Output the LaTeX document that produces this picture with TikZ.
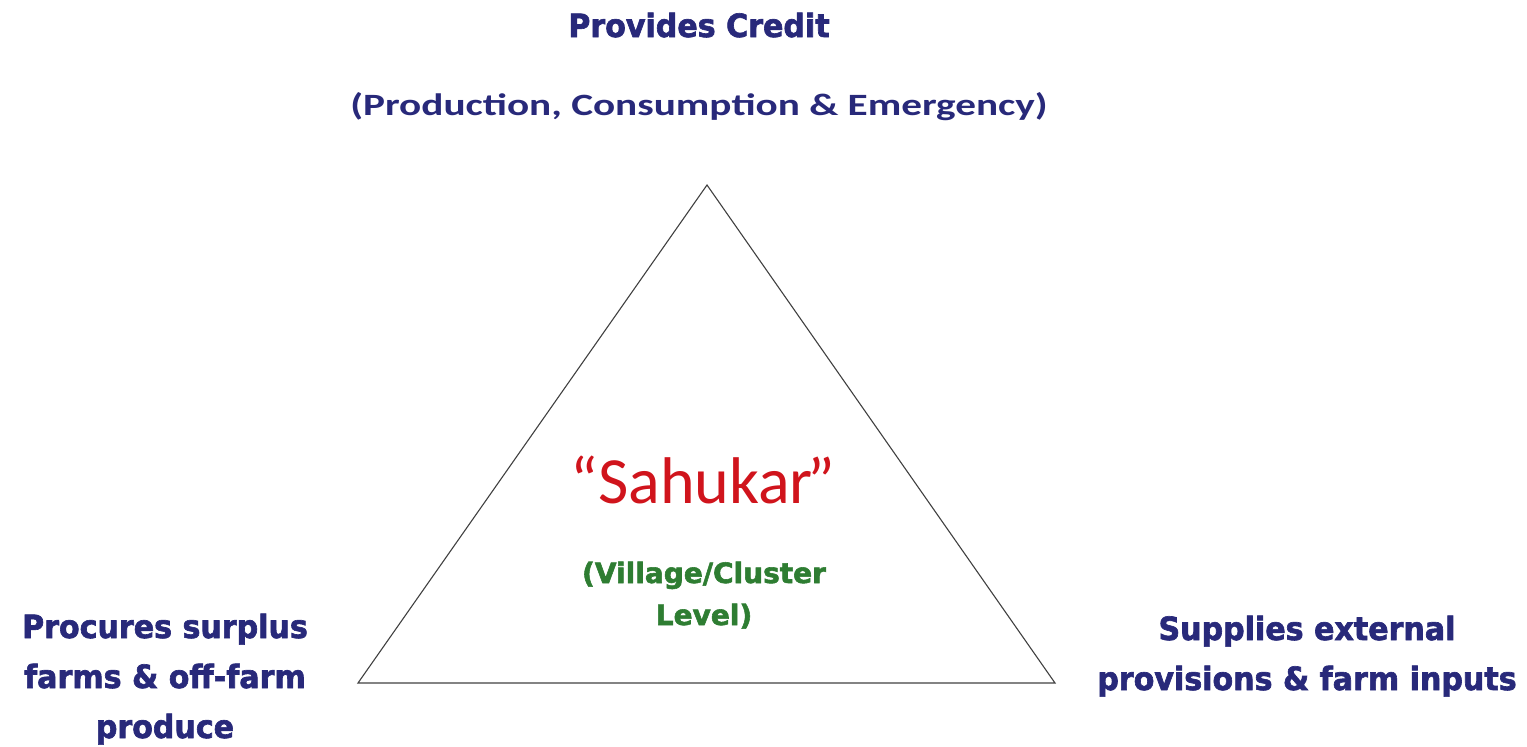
\documentclass[tikz,border=0pt]{standalone}
\usepackage{fontspec}
\setmainfont{Carlito}
\newfontfamily\heavy{DejaVu Sans}[FakeStretch=0.94,FakeBold=2]
\newfontfamily\heavyw{DejaVu Sans}[FakeStretch=1.0,FakeBold=2]
\newfontfamily\wide{Carlito}[FakeStretch=1.33]
\definecolor{navy}{HTML}{28297A}
\definecolor{sred}{HTML}{D0141C}
\definecolor{sgreen}{HTML}{2E7D32}
\begin{document}
\begin{tikzpicture}[x=1pt,y=-1pt,
  lbl/.style={anchor=base,align=center,inner sep=0pt},
  bold/.style={lbl,text=navy,font=\heavy\bfseries\fontsize{32}{50}\selectfont},
  tri/.style={draw=black!75,line width=1.1pt}]
\useasboundingbox (0,0) rectangle (1527,747);
\coordinate (T) at (707,185);
\coordinate (L) at (358,683);
\coordinate (R) at (1055,683);
\draw[tri] (T) -- (L) -- (R) -- cycle;
\node[bold] (credit) at (699,37) {Provides Credit};
\node[lbl,text=navy,font=\wide\bfseries\fontsize{31}{40}\selectfont] (pce) at (699,115) {(Production, Consumption \& Emergency)};
\node[lbl,text=sred,font=\fontsize{66}{70}\selectfont] (sah) at (703,503) {“Sahukar\kern-0.08em”};
\node[lbl,text=sgreen,font=\heavyw\bfseries\fontsize{28}{42}\selectfont] (vil) at (704,625) {(Village/Cluster\\Level)};
\node[bold] (left) at (165,738) {Procures surplus\\farms \& off-farm\\produce};
\node[bold] (right) at (1307,690) {Supplies external\\provisions \& farm inputs};
\end{tikzpicture}
\end{document}
